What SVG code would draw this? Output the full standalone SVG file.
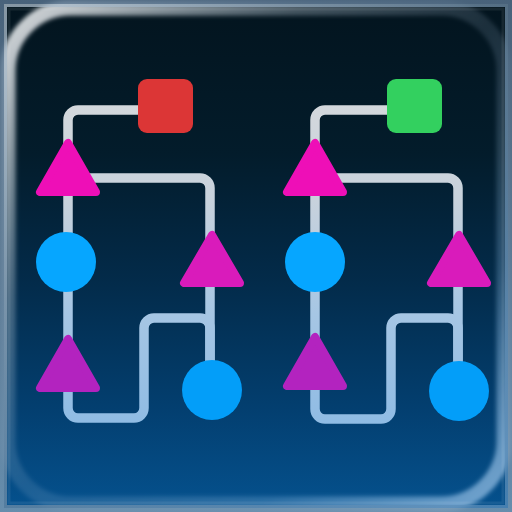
<svg xmlns="http://www.w3.org/2000/svg" width="512" height="512" viewBox="0 0 512 512">
  <defs>
    <linearGradient id="bg" x1="0" y1="0" x2="0" y2="1">
      <stop offset="0" stop-color="#03141e"/>
      <stop offset="0.3" stop-color="#031c2b"/>
      <stop offset="0.55" stop-color="#032b4a"/>
      <stop offset="0.8" stop-color="#033f70"/>
      <stop offset="1" stop-color="#05528f"/>
    </linearGradient>
    <linearGradient id="lineG" gradientUnits="userSpaceOnUse" x1="0" y1="100" x2="0" y2="430">
      <stop offset="0" stop-color="#d4d8dc"/>
      <stop offset="0.3" stop-color="#c8d2dc"/>
      <stop offset="0.65" stop-color="#a6c6e4"/>
      <stop offset="1" stop-color="#8ebbe4"/>
    </linearGradient>
    <linearGradient id="frameOuter" x1="0" y1="0" x2="0" y2="1">
      <stop offset="0" stop-color="#5a7692"/>
      <stop offset="1" stop-color="#7f9cb4"/>
    </linearGradient>
    <linearGradient id="frameInner" gradientUnits="userSpaceOnUse" x1="0" y1="0" x2="512" y2="512">
      <stop offset="0" stop-color="#b4c4d2"/>
      <stop offset="0.5" stop-color="#6f8ca6"/>
      <stop offset="1" stop-color="#5b8fbc"/>
    </linearGradient>
    <linearGradient id="gloss" gradientUnits="userSpaceOnUse" x1="0" y1="0" x2="512" y2="512">
      <stop offset="0" stop-color="#ffffff" stop-opacity="0.9"/>
      <stop offset="0.3" stop-color="#c0d0dc" stop-opacity="0.35"/>
      <stop offset="0.5" stop-color="#a8c0d8" stop-opacity="0.15"/>
      <stop offset="0.75" stop-color="#8ab8e0" stop-opacity="0.3"/>
      <stop offset="1" stop-color="#9cc4e8" stop-opacity="0.8"/>
    </linearGradient>
    <filter id="soft" x="-5%" y="-5%" width="110%" height="110%">
      <feGaussianBlur stdDeviation="2.2"/>
    </filter>
    <clipPath id="sq"><rect x="0" y="0" width="512" height="512"/></clipPath>
  </defs>
  <style>
    .wire { fill: none; stroke: url(#lineG); stroke-width: 9.5; stroke-linecap: butt; }
    .tri { stroke-width: 8; stroke-linejoin: round; }
    .t1 { fill: #ee0fb7; stroke: #ee0fb7; }
    .t2 { fill: #d91bbb; stroke: #d91bbb; }
    .t3 { fill: #b323bf; stroke: #b323bf; }
    .c1 { fill: #06a6ff; }
    .c2 { fill: #039ef9; }
  </style>

  <!-- background and frame -->
  <rect x="0" y="0" width="512" height="512" fill="url(#bg)"/>
  <g clip-path="url(#sq)">
    <rect x="8" y="8" width="496" height="496" rx="63" fill="none" stroke="url(#gloss)" stroke-width="15" filter="url(#soft)"/>
  </g>
  <rect x="2" y="2" width="508" height="508" fill="none" stroke="url(#frameOuter)" stroke-width="4" opacity="0.8"/>
  <rect x="5.5" y="5.5" width="501" height="501" fill="none" stroke="url(#frameInner)" stroke-width="3" opacity="0.75"/>
  <rect x="9" y="9" width="494" height="494" fill="none" stroke="#ffffff" stroke-opacity="0.08" stroke-width="3"/>

  <!-- connectors -->
  <g id="connectors">
    <path class="wire" d="M140,110 H78 A10,10 0 0 0 68,120 V408 A10,10 0 0 0 78,418 H134 A10,10 0 0 0 144,408 V328 A10,10 0 0 1 154,318 H200 A10,10 0 0 1 210,328 V390"/>
    <path class="wire" d="M85,178 H200 A10,10 0 0 1 210,188 V390"/>
    <path class="wire" d="M389,110 H325 A10,10 0 0 0 315,120 V409 A10,10 0 0 0 325,419 H381 A10,10 0 0 0 391,409 V328 A10,10 0 0 1 401,318 H448 A10,10 0 0 1 458,328 V390"/>
    <path class="wire" d="M332,178 H448 A10,10 0 0 1 458,188 V390"/>
  </g>

  <!-- left tree -->
  <g id="red-square"><rect x="138" y="79" width="55" height="54" rx="9" fill="#dc3636"/></g>
  <g id="left-triangle-top"><polygon class="tri t1" points="68,143 40,192 96,192"/></g>
  <g id="left-circle-mid"><circle class="c1" cx="66" cy="262" r="30"/></g>
  <g id="left-triangle-bottom"><polygon class="tri t3" points="68,339 40,388 96,388"/></g>
  <g id="left-triangle-right"><polygon class="tri t2" points="212,235 184,283 240,283"/></g>
  <g id="left-circle-right"><circle class="c2" cx="212" cy="390" r="30"/></g>

  <!-- right tree -->
  <g id="green-square"><rect x="387" y="79" width="55" height="54" rx="9" fill="#33d05f"/></g>
  <g id="right-triangle-top"><polygon class="tri t1" points="315,143 287,192 343,192"/></g>
  <g id="right-circle-mid"><circle class="c1" cx="315" cy="262" r="30"/></g>
  <g id="right-triangle-bottom"><polygon class="tri t3" points="315,337 287,386 343,386"/></g>
  <g id="right-triangle-right"><polygon class="tri t2" points="459,235 431,283 487,283"/></g>
  <g id="right-circle-right"><circle class="c2" cx="459" cy="391" r="30"/></g>
</svg>
